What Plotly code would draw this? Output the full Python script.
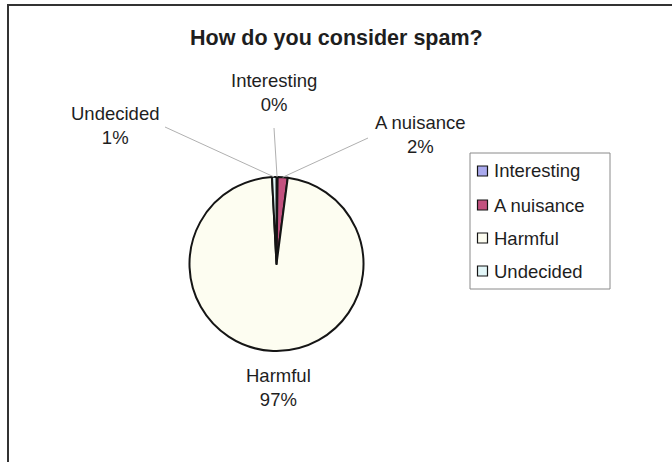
import plotly.graph_objects as go
import math

# ---- data ----
categories = ["Interesting", "A nuisance", "Harmful", "Undecided"]
values = [1, 9, 470, 4]
colors = ["#aaaaee", "#c2517f", "#fdfdf1", "#e2f6f8"]
title_text = "How do you consider spam?"

W, H = 672, 462
FONT = "Liberation Sans, Arial, sans-serif"
TXT = "#1e1e1e"

def px(x):
    return x / W

def py(y):
    return 1 - y / H

# pie geometry (pixels)
cx, cy, R = 276.5, 264.0, 87.0

fig = go.Figure()
fig.add_trace(go.Pie(
    labels=categories, values=values, sort=False, direction="clockwise",
    rotation=0, textinfo="none", hoverinfo="label+percent",
    marker=dict(colors=colors, line=dict(color="#151515", width=2)),
    domain=dict(x=[px(cx - R), px(cx + R)], y=[py(cy + R), py(cy - R)]),
    showlegend=False,
))

total = sum(values)
pcts = [round(v / total * 100) for v in values]

# label positions (pixels, layout only)
label_pos = {
    "Interesting": (274, 92),
    "A nuisance": (420, 135),
    "Harmful": (278, 387),
    "Undecided": (115, 126),
}
leader_start = {
    "Interesting": (274, 128),
    "A nuisance": (368, 138),
    "Undecided": (165, 127),
}

shapes = []
annotations = []
cum = 0
for cat, v, p in zip(categories, values, pcts):
    mid = (cum + v / 2) / total * 360
    cum += v
    ex = cx + R * math.sin(math.radians(mid))
    ey = cy - R * math.cos(math.radians(mid))
    lx, ly = label_pos[cat]
    annotations.append(dict(
        x=px(lx), y=py(ly), xref="paper", yref="paper", showarrow=False,
        text=f"{cat}<br>{p}%", align="center",
        font=dict(family=FONT, size=18.5, color=TXT),
        xanchor="center", yanchor="middle",
    ))
    if cat in leader_start:
        sx, sy = leader_start[cat]
        shapes.append(dict(type="line", xref="paper", yref="paper",
                           x0=px(sx), y0=py(sy), x1=px(ex), y1=py(ey),
                           line=dict(color="#b0b0b0", width=1)))

# legend (manual)
lg_left, lg_top, lg_right, lg_bottom = 470, 153, 610, 289
shapes.append(dict(type="rect", xref="paper", yref="paper",
                   x0=px(lg_left), x1=px(lg_right), y0=py(lg_bottom), y1=py(lg_top),
                   line=dict(color="#8a8a8a", width=1), fillcolor="white"))
row_y = [171, 205, 238, 271]
for cat, col, yy in zip(categories, colors, row_y):
    shapes.append(dict(type="rect", xref="paper", yref="paper",
                       x0=px(477.5), x1=px(487.5), y0=py(yy + 5), y1=py(yy - 5),
                       line=dict(color="#151515", width=1.2), fillcolor=col))
    annotations.append(dict(
        x=px(492), y=py(yy), xref="paper", yref="paper", showarrow=False,
        text=cat, xanchor="left", yanchor="middle",
        font=dict(family=FONT, size=18.5, color=TXT),
    ))

# chart frame
shapes.append(dict(type="rect", xref="paper", yref="paper",
                   x0=px(8), x1=px(W + 20), y0=py(H + 20), y1=py(5),
                   line=dict(color="#333333", width=2), fillcolor="rgba(0,0,0,0)",
                   layer="below"))

annotations.append(dict(
    x=px(336), y=py(38), xref="paper", yref="paper", showarrow=False,
    text=f"<b>{title_text}</b>", xanchor="center", yanchor="middle",
    font=dict(family=FONT, size=21.5, color=TXT),
))

fig.update_layout(
    width=W, height=H, margin=dict(l=0, r=0, t=0, b=0),
    paper_bgcolor="white", plot_bgcolor="white",
    shapes=shapes, annotations=annotations, showlegend=False,
)

fig.write_html("out.html")
